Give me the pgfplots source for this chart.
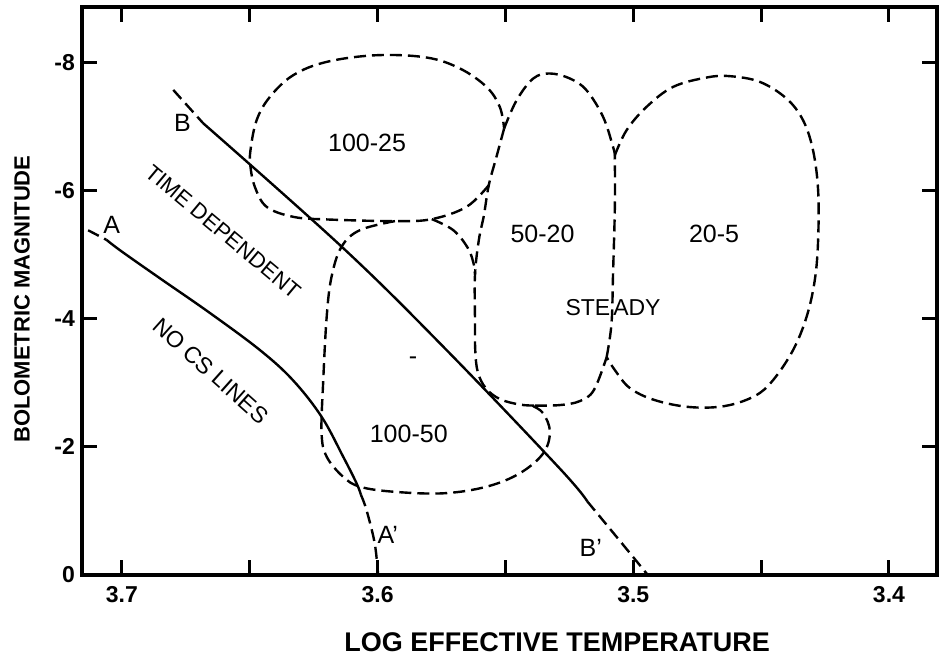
\documentclass[border=0pt]{standalone}
\usepackage{pgfplots}
\pgfplotsset{compat=1.18}
\usepackage{fontspec}
\setmainfont{Liberation Sans}
\pgfplotsset{
  dsh/.style={black, line width=1.2pt, dash pattern=on 6pt off 3pt, smooth, tension=0.6, no markers},
  sol/.style={black, line width=1.2pt, smooth, tension=0.6, no markers},
}
\newcommand{\lf}{\fontsize{12.5}{14}\selectfont}
\begin{document}
\begin{tikzpicture}
\path[use as bounding box] (-41pt,-40.5pt) rectangle (429pt,287.5pt);
\begin{axis}[
  at={(0,0)}, anchor=south west,
  scale only axis, width=427.25pt, height=283.85pt,
  x dir=reverse, y dir=reverse,
  xmin=3.3814, xmax=3.7156, ymin=-8.86, ymax=0,
  xtick={3.7,3.6,3.5,3.4}, xticklabels={3.7,3.6,3.5,3.4},
  minor xtick={3.65,3.55,3.45},
  ytick={-8,-6,-4,-2,0}, yticklabels={-8,-6,-4,-2,0},
  axis line style={line width=2pt},
  major tick length=7.5pt, minor tick length=7.5pt,
  every tick/.append style={black, line width=1.5pt},
  tick label style={font=\fontsize{11.5}{13}\selectfont\bfseries},
  xticklabel style={yshift=-2pt},
  xlabel={LOG EFFECTIVE TEMPERATURE},
  ylabel={BOLOMETRIC MAGNITUDE},
  xlabel style={at={(axis description cs:0.556,0)}, anchor=center, yshift=-33.5pt, font=\fontsize{13.5}{15}\selectfont\bfseries},
  ylabel style={at={(axis description cs:0,0.486)}, anchor=center, rotate=0, yshift=30pt, font=\fontsize{11}{13}\selectfont\bfseries},
  clip=false,
]
% Line A
\addplot[dsh] coordinates {(3.7132,-5.38) (3.7060,-5.23)};
\addplot[sol] coordinates {(3.7060,-5.23) (3.7001,-5.05) (3.6851,-4.63) (3.6656,-4.09) (3.6460,-3.51) (3.6331,-3.04) (3.6219,-2.47) (3.6135,-1.85) (3.6082,-1.43) (3.6065,-1.25)};
\addplot[dsh] coordinates {(3.6065,-1.25) (3.6043,-1.01) (3.6011,-0.49) (3.5998,0)};
% Line B
\addplot[dsh] coordinates {(3.6799,-7.57) (3.6682,-7.05)};
\addplot[sol] coordinates {(3.6682,-7.05) (3.6134,-5.10) (3.5730,-3.51) (3.5287,-1.66) (3.5180,-1.15)};
\addplot[dsh] coordinates {(3.5180,-1.15) (3.5060,-0.57) (3.4943,0)};
% Seg A: 50-20 left side (shared)
\addplot[dsh] coordinates {(3.5505,-6.969) (3.5535,-6.526) (3.5565,-6.084) (3.5584,-5.616) (3.5604,-5.226) (3.5619,-4.680) (3.5619,-3.978) (3.5618,-3.510) (3.5608,-3.167) (3.5577,-2.917) (3.5522,-2.746) (3.5444,-2.660) (3.5385,-2.644)};
% Seg B: 50-20 bottom right
\addplot[dsh] coordinates {(3.5385,-2.644) (3.5287,-2.652) (3.5209,-2.714) (3.5154,-2.886) (3.5104,-3.401)};
% Seg C: shared 50-20 / 20-5
\addplot[dsh] coordinates {(3.5104,-3.401) (3.5085,-3.927) (3.5079,-4.707) (3.5072,-5.746) (3.5072,-6.552)};
% Seg D: 50-20 top
\addplot[dsh] coordinates {(3.5505,-6.969) (3.5456,-7.410) (3.5391,-7.749) (3.5326,-7.827) (3.5248,-7.749) (3.5183,-7.566) (3.5118,-7.150) (3.5079,-6.682) (3.5072,-6.552)};
% Seg E: 20-5
\addplot[dsh] coordinates {(3.5072,-6.552) (3.5026,-6.942) (3.4948,-7.306) (3.4844,-7.618) (3.4713,-7.764) (3.4622,-7.785) (3.4505,-7.696) (3.4401,-7.437) (3.4336,-7.098) (3.4297,-6.630) (3.4277,-6.006) (3.4277,-5.226) (3.4290,-4.602) (3.4322,-4.030) (3.4375,-3.510) (3.4453,-3.042) (3.4525,-2.793) (3.4642,-2.637) (3.4779,-2.621) (3.4916,-2.730) (3.5013,-2.917) (3.5072,-3.198) (3.5104,-3.401)};
% Seg F: 100-25
\addplot[dsh] coordinates {(3.5565,-6.084) (3.5652,-5.746) (3.5788,-5.554) (3.5932,-5.523) (3.6199,-5.549) (3.6330,-5.590) (3.6434,-5.746) (3.6480,-6.058) (3.6497,-6.370) (3.6497,-6.630) (3.6473,-7.098) (3.6421,-7.462) (3.6330,-7.800) (3.6199,-8.008) (3.6004,-8.112) (3.5808,-8.076) (3.5678,-7.905) (3.5574,-7.618) (3.5522,-7.306) (3.5505,-6.969)};
% Seg G: 100-50 top right
\addplot[dsh] coordinates {(3.5788,-5.554) (3.5704,-5.382) (3.5646,-5.097) (3.5623,-4.836) (3.5619,-4.680)};
% Seg H: 100-50 main
\addplot[dsh] coordinates {(3.5932,-5.523) (3.6069,-5.382) (3.6141,-5.122) (3.6180,-4.654) (3.6199,-4.030) (3.6213,-2.991) (3.6219,-2.211) (3.6199,-1.846) (3.6135,-1.534) (3.6069,-1.378) (3.5939,-1.300) (3.5743,-1.275) (3.5574,-1.378) (3.5444,-1.587) (3.5352,-1.899) (3.5326,-2.236) (3.5352,-2.523) (3.5393,-2.637)};
% labels
\node[font=\lf] at (axis cs:3.6041,-6.75) {100-25};
\node[font=\lf] at (axis cs:3.5355,-5.32) {50-20};
\node[font=\lf] at (axis cs:3.4684,-5.32) {20-5};
\node[font=\fontsize{11.5}{13}\selectfont] at (axis cs:3.5079,-4.17) {STE\hspace{1.5pt}ADY};
\node[font=\lf] at (axis cs:3.5878,-2.21) {100-50};
\node[font=\lf] at (axis cs:3.5861,-3.35) {-};
\node[font=\fontsize{11}{13}\selectfont, rotate=-39.9] at (axis cs:3.6604,-5.356) {TIME DEPENDENT};
\node[font=\fontsize{11.5}{13}\selectfont, rotate=-41.8] at (axis cs:3.6653,-3.186) {NO CS LINES};
\node[font=\lf] at (axis cs:3.7040,-5.46) {A};
\node[font=\lf] at (axis cs:3.6763,-7.05) {B};
\node[font=\lf] at (axis cs:3.5960,-0.62) {A'};
\node[font=\lf] at (axis cs:3.5166,-0.42) {B'};
\end{axis}
\end{tikzpicture}
\end{document}
